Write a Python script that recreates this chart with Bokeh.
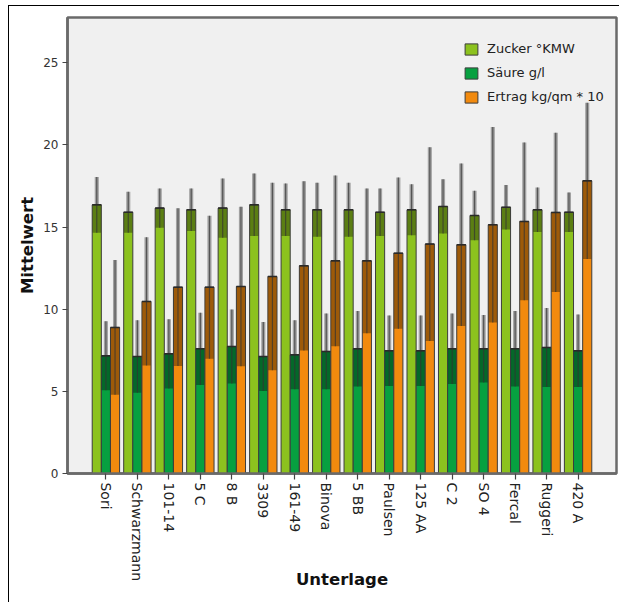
import math
from bokeh.plotting import figure
from bokeh.models import ColumnDataSource, FactorRange, Range1d, Legend, LegendItem, FixedTicker
from bokeh.transform import dodge
from bokeh.embed import file_html
from bokeh.resources import INLINE

cats = ["Sori", "Schwarzmann", "101-14", "5 C", "8 B", "3309", "161-49", "Binova",
        "5 BB", "Paulsen", "125 AA", "C 2", "SO 4", "Fercal", "Ruggeri", "420 A"]
zucker = [16.35, 15.9, 16.15, 16.05, 16.15, 16.35, 16.05, 16.05,
          16.05, 15.9, 16.05, 16.25, 15.7, 16.2, 16.05, 15.9]
zucker_err = [1.7, 1.25, 1.2, 1.3, 1.8, 1.9, 1.6, 1.65,
              1.65, 1.45, 1.55, 1.65, 1.5, 1.35, 1.35, 1.2]
saeure = [7.16, 7.12, 7.28, 7.59, 7.73, 7.12, 7.22, 7.43,
          7.59, 7.47, 7.47, 7.59, 7.59, 7.59, 7.67, 7.47]
saeure_err = [2.1, 2.2, 2.1, 2.2, 2.25, 2.1, 2.1, 2.3,
              2.3, 2.15, 2.15, 2.15, 2.05, 2.3, 2.4, 2.2]
ertrag = [8.89, 10.47, 11.34, 11.34, 11.38, 11.99, 12.64, 12.94,
          12.94, 13.41, 13.96, 13.92, 15.14, 15.34, 15.89, 17.81]
ertrag_err = [4.1, 3.9, 4.8, 4.35, 4.85, 5.7, 5.15, 5.2,
              4.4, 4.6, 5.9, 4.95, 5.95, 4.8, 4.85, 4.75]
series_labels = ["Zucker °KMW", "Säure g/l", "Ertrag kg/qm * 10"]
y_ticks = [0, 5, 10, 15, 20, 25]

colors = ["#8CC21E", "#07A040", "#F28A0E"]
offsets = [-0.29, 0.0, 0.29]
bw = 0.29

p = figure(x_range=FactorRange(factors=cats, range_padding=0.09),
           y_range=Range1d(0, 27.75),
           width=611, height=597, output_backend="svg", toolbar_location=None,
           min_border_left=58, min_border_right=4, min_border_top=11, min_border_bottom=130)
p.background_fill_color = "#F0F0F0"
p.border_fill_color = "white"
p.outline_line_color = "#6a6a6a"
p.outline_line_width = 2.5
p.xgrid.grid_line_color = None
p.ygrid.grid_line_color = None

renderers = []
for vals, errs, col, off in zip([zucker, saeure, ertrag], [zucker_err, saeure_err, ertrag_err], colors, offsets):
    src = ColumnDataSource(dict(
        cat=cats, top=vals,
        lo=[v - e for v, e in zip(vals, errs)],
        hi=[v + e for v, e in zip(vals, errs)]))
    xs = dodge("cat", off, range=p.x_range)
    r = p.vbar(x=xs, top="top", bottom=0, width=bw, source=src,
               fill_color=col, line_color="#3c3c3c", line_width=1)
    renderers.append(r)
    # lower half of error band (darkens the bar)
    p.vbar(x=xs, top="top", bottom="lo", width=bw * 0.92, source=src,
           fill_color="black", fill_alpha=0.35, line_color=None)
    # upper half of error band (gray band above bar)
    p.vbar(x=xs, top="hi", bottom="top", width=bw * 0.45, source=src,
           fill_color="black", fill_alpha=0.33, line_color=None)
    # center line of error bar
    p.segment(x0=xs, y0="lo", x1=xs, y1="hi", source=src,
              line_color="#333333", line_alpha=0.7, line_width=1.2)
    # cap line at bar top
    p.vbar(x=xs, top="top", bottom="top", width=bw, source=src,
           fill_color=None, line_color="#2a2a2a", line_width=1.5)

legend = Legend(items=[LegendItem(label=l, renderers=[r]) for l, r in zip(series_labels, renderers)],
                location=(396, 369), orientation="vertical",
                glyph_width=16, glyph_height=14, label_height=14, label_width=20,
                spacing=9, padding=5, margin=0, label_standoff=8,
                border_line_color=None, background_fill_alpha=0,
                label_text_font="DejaVu Sans", label_text_font_size="13px",
                label_text_color="#222222")
p.add_layout(legend)

p.yaxis.ticker = FixedTicker(ticks=y_ticks)
p.yaxis.minor_tick_line_color = None
p.yaxis.major_tick_out = 5
p.yaxis.major_tick_in = 0
p.yaxis.major_label_text_font = "DejaVu Sans"
p.yaxis.major_label_text_font_size = "12px"
p.yaxis.major_label_text_color = "#333333"
p.yaxis.major_label_standoff = 4
p.yaxis.axis_label = "Mittelwert"
p.yaxis.axis_label_text_font = "DejaVu Sans"
p.yaxis.axis_label_text_font_style = "bold"
p.yaxis.axis_label_text_font_size = "16.5px"
p.yaxis.axis_label_text_color = "#111111"
p.yaxis.axis_label_standoff = 3

p.xaxis.major_label_orientation = -math.pi / 2
p.xaxis.major_tick_out = 6
p.xaxis.major_tick_in = 0
p.xaxis.major_label_text_font = "DejaVu Sans"
p.xaxis.major_label_text_font_size = "14px"
p.xaxis.major_label_text_color = "#222222"
p.xaxis.major_label_standoff = 3
p.xaxis.axis_label = "Unterlage"
p.xaxis.axis_label_text_font = "DejaVu Sans"
p.xaxis.axis_label_text_font_style = "bold"
p.xaxis.axis_label_text_font_size = "16.5px"
p.xaxis.axis_label_text_color = "#111111"
p.xaxis.axis_label_standoff = -14

for ax in (p.xaxis, p.yaxis):
    ax.axis_line_color = "#6a6a6a"
    ax.axis_line_width = 2.5
    ax.major_tick_line_color = "#444444"
    ax.major_tick_line_width = 1.2

p.styles = {"margin-left": "8px", "margin-top": "5px",
            "border-left": "1px solid black", "border-top": "1px solid black"}

open("out.html", "w").write(file_html(p, INLINE))
